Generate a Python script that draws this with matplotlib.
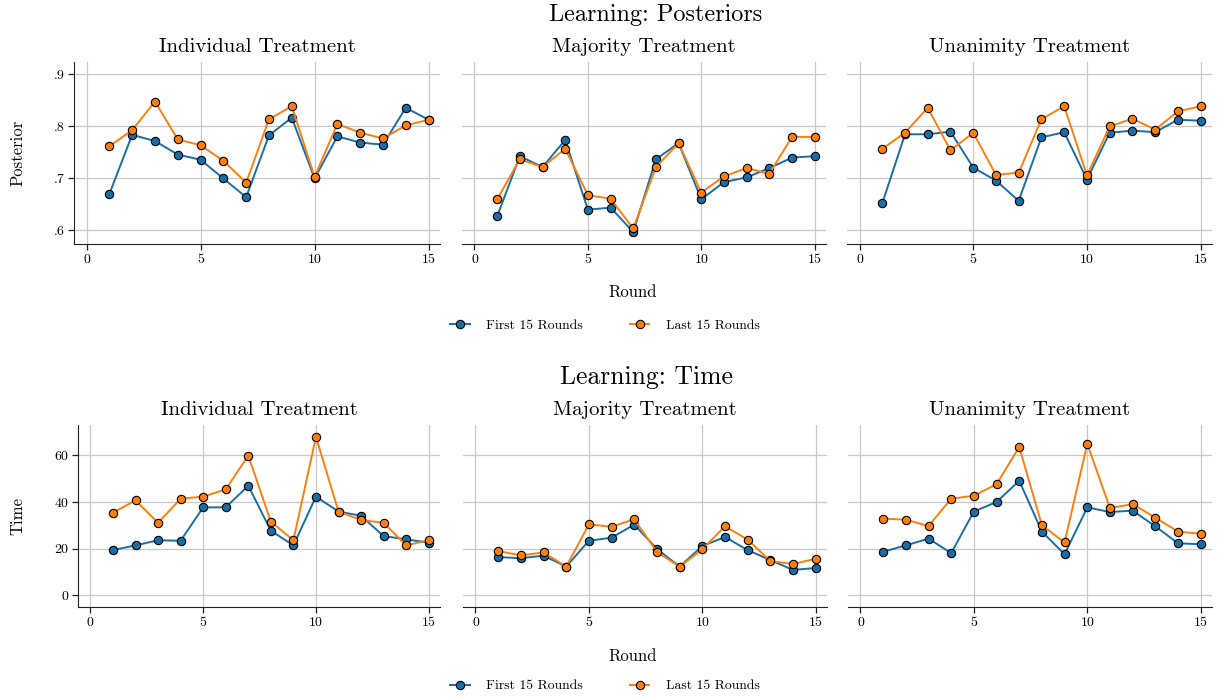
import matplotlib
matplotlib.use("Agg")
import matplotlib.pyplot as plt
from matplotlib.lines import Line2D

plt.rcParams['font.family'] = ['cmr10', 'DejaVu Serif']
plt.rcParams['axes.formatter.use_mathtext'] = True
plt.rcParams['mathtext.fontset'] = 'cm'

rounds = list(range(1, 16))
treatments = ["Individual Treatment", "Majority Treatment", "Unanimity Treatment"]
series_labels = ["First 15 Rounds", "Last 15 Rounds"]

# Posteriors
post_ind_first = [.669, .783, .771, .745, .735, .699, .663, .782, .816, .699, .780, .768, .764, .835, .812]
post_ind_last = [.761, .792, .847, .774, .763, .733, .691, .813, .838, .702, .804, .787, .776, .801, .812]
post_maj_first = [.626, .742, .721, .773, .639, .643, .596, .736, .767, .659, .692, .701, .719, .739, .742]
post_maj_last = [.659, .736, .721, .756, .667, .660, .603, .721, .767, .672, .703, .719, .708, .779, .779]
post_una_first = [.651, .784, .784, .789, .720, .695, .656, .778, .788, .697, .787, .791, .788, .812, .810]
post_una_last = [.756, .787, .835, .753, .787, .706, .710, .813, .838, .705, .799, .814, .793, .828, .838]

# Time
time_ind_first = [19.4, 21.4, 23.6, 23.4, 37.7, 37.7, 47.0, 27.7, 21.4, 42.3, 35.9, 34.1, 25.4, 24.0, 22.6]
time_ind_last = [35.4, 40.7, 31.1, 41.4, 42.3, 45.4, 59.9, 31.6, 23.6, 67.9, 35.9, 32.3, 31.1, 21.4, 23.7]
time_maj_first = [16.4, 15.9, 17.0, 12.3, 23.4, 24.7, 30.3, 19.9, 12.3, 21.1, 25.0, 19.4, 15.1, 10.9, 11.7]
time_maj_last = [19.0, 17.1, 18.4, 12.3, 30.4, 29.4, 32.6, 18.6, 12.3, 19.7, 29.6, 23.9, 14.7, 13.4, 15.7]
time_una_first = [18.7, 21.4, 24.3, 18.1, 35.9, 40.0, 49.1, 27.3, 17.6, 37.7, 35.7, 36.3, 29.6, 22.3, 21.9]
time_una_last = [32.9, 32.4, 29.7, 41.4, 42.7, 47.6, 63.6, 30.0, 22.7, 64.9, 37.4, 39.1, 33.3, 27.3, 26.4]

post_ticks = [.6, .7, .8, .9]
post_ticklabels = [".6", ".7", ".8", ".9"]
time_ticks = [0, 20, 40, 60]
time_ticklabels = ["0", "20", "40", "60"]
x_ticks = [0, 5, 10, 15]

colors = ["#1a6ea8", "#ff7f0e"]

W, H = 1221, 698
fig = plt.figure(figsize=(W / 100, H / 100), dpi=100)

def px_axes(x0, x1, y0, y1):
    return fig.add_axes([x0 / W, 1 - y1 / H, (x1 - x0) / W, (y1 - y0) / H])

top_pos = [(74, 440), (462, 826), (847, 1212)]
bot_pos = [(78, 440), (463, 827), (848, 1212)]

post_data = [(post_ind_first, post_ind_last), (post_maj_first, post_maj_last), (post_una_first, post_una_last)]
time_data = [(time_ind_first, time_ind_last), (time_maj_first, time_maj_last), (time_una_first, time_una_last)]

def style(ax, i, yticks, yticklabels, ylim):
    ax.set_xlim(-0.55, 15.5)
    ax.set_ylim(*ylim)
    ax.set_xticks(x_ticks)
    ax.set_xticklabels([str(t) for t in x_ticks], fontsize=10)
    ax.set_yticks(yticks)
    ax.grid(True, color="#c8c8c8", linewidth=0.9)
    ax.set_axisbelow(True)
    for s in ["top", "right"]:
        ax.spines[s].set_visible(False)
    ax.spines["bottom"].set_color("#222222")
    ax.spines["left"].set_color("#222222")
    ax.tick_params(axis="both", direction="out", length=4, width=0.9, color="#222222", labelsize=10, pad=3)
    if i == 0:
        ax.set_yticklabels(yticklabels, fontsize=10)
    else:
        ax.spines["left"].set_visible(False)
        ax.tick_params(axis="y", left=False, labelleft=False)
    ax.set_title(treatments[i], fontsize=15, pad=7)

def draw(ax, data):
    for vals, c, lab in zip(data, colors, series_labels):
        ax.plot(rounds, vals, color=c, linewidth=1.4, marker="o", markersize=6,
                markerfacecolor=c, markeredgecolor="black", markeredgewidth=0.8, label=lab)

for i, (x0, x1) in enumerate(top_pos):
    ax = px_axes(x0, x1, 62, 244)
    draw(ax, post_data[i])
    style(ax, i, post_ticks, post_ticklabels, (.573, .923))

for i, (x0, x1) in enumerate(bot_pos):
    ax = px_axes(x0, x1, 425, 607)
    draw(ax, time_data[i])
    style(ax, i, time_ticks, time_ticklabels, (-5, 73))

fig.text(656 / W, 1 - 15 / H, "Learning: Posteriors", ha="center", va="center", fontsize=17.5)
fig.text(646 / W, 1 - 377 / H, "Learning: Time", ha="center", va="center", fontsize=18.5)
fig.text(633 / W, 1 - 292 / H, "Round", ha="center", va="center", fontsize=12)
fig.text(633 / W, 1 - 656 / H, "Round", ha="center", va="center", fontsize=12)
fig.text(18 / W, 1 - 153 / H, "Posterior", ha="center", va="center", rotation=90, fontsize=12)
fig.text(18 / W, 1 - 516 / H, "Time", ha="center", va="center", rotation=90, fontsize=12)

handles = [Line2D([0], [0], color=c, linewidth=1.4, marker="o", markersize=6,
                  markerfacecolor=c, markeredgecolor="black", markeredgewidth=0.8) for c in colors]
for ly in (326, 686):
    fig.legend(handles, series_labels, loc="center", bbox_to_anchor=(605 / W, 1 - ly / H),
               ncol=2, frameon=False, fontsize=9.8, handlelength=1.4, columnspacing=3.5, handletextpad=1.2)

fig.savefig("out.png", dpi=100)
